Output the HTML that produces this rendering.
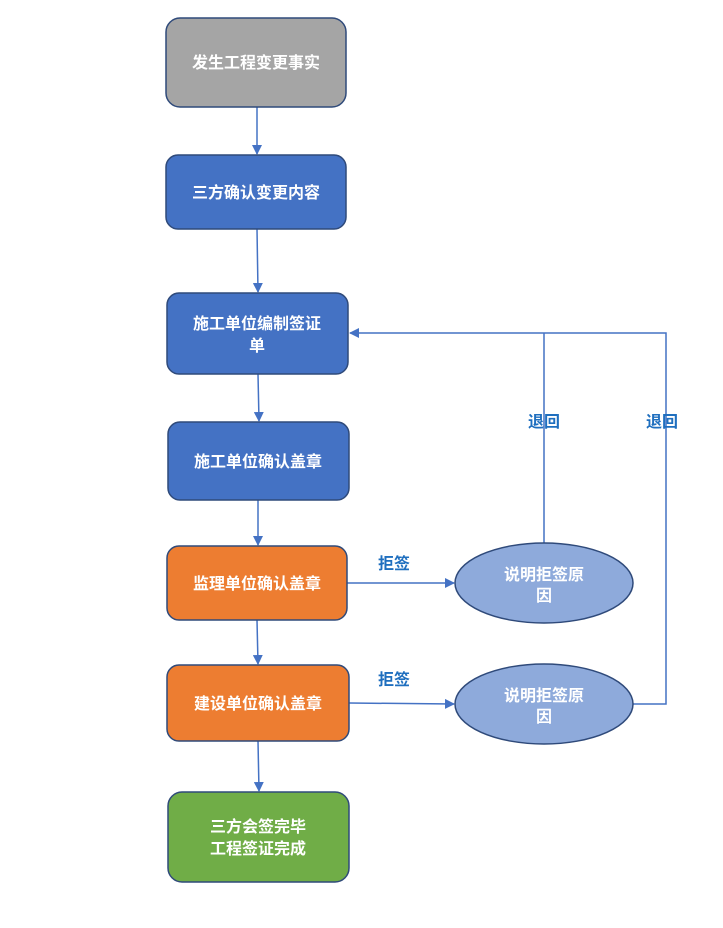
<!DOCTYPE html>
<html><head><meta charset="utf-8"><style>
body{margin:0;background:#fff;}
svg text{font-family:"Liberation Sans","Noto Sans CJK SC",sans-serif;font-weight:bold;}
</style></head><body>
<svg width="723" height="923" viewBox="0 0 723 923" xmlns="http://www.w3.org/2000/svg">
<defs><marker id="a" markerWidth="10" markerHeight="10" refX="9" refY="5" orient="auto" markerUnits="userSpaceOnUse"><path d="M0,0 L10,5 L0,10 z" fill="#4472c4"/></marker></defs>
<g stroke="#4472c4" stroke-width="1.5" fill="none">
<line x1="257" y1="107" x2="257" y2="154" marker-end="url(#a)"/>
<line x1="257" y1="229" x2="258" y2="292" marker-end="url(#a)"/>
<line x1="258" y1="374" x2="259" y2="421" marker-end="url(#a)"/>
<line x1="258" y1="500" x2="258" y2="545" marker-end="url(#a)"/>
<line x1="257" y1="620" x2="258" y2="664" marker-end="url(#a)"/>
<line x1="258" y1="741" x2="259" y2="791" marker-end="url(#a)"/>
<line x1="347" y1="583" x2="454" y2="583" marker-end="url(#a)"/>
<line x1="349" y1="703" x2="454" y2="704" marker-end="url(#a)"/>
<polyline points="544,543 544,333"/>
<polyline points="633,704 666,704 666,333 350,333" marker-end="url(#a)"/>
</g>
<g stroke="#2f4a7a" stroke-width="1.5">
<rect x="166" y="18" width="180" height="89" rx="14" fill="#a5a5a5"/>
<rect x="166" y="155" width="180" height="74" rx="12" fill="#4472c4"/>
<rect x="167" y="293" width="181" height="81" rx="12" fill="#4472c4"/>
<rect x="168" y="422" width="181" height="78" rx="12" fill="#4472c4"/>
<rect x="167" y="546" width="180" height="74" rx="12" fill="#ed7d31"/>
<rect x="167" y="665" width="182" height="76" rx="12" fill="#ed7d31"/>
<rect x="168" y="792" width="181" height="90" rx="14" fill="#70ad47"/>
<ellipse cx="544" cy="583" rx="89" ry="40" fill="#8eaadb"/>
<ellipse cx="544" cy="704" rx="89" ry="40" fill="#8eaadb"/>
</g>
<g fill="#fff" font-size="16" text-anchor="middle">
<text x="256" y="68">发生工程变更事实</text>
<text x="256" y="198">三方确认变更内容</text>
<text x="257" y="329">施工单位编制签证</text>
<text x="257" y="351">单</text>
<text x="258" y="467">施工单位确认盖章</text>
<text x="257" y="589">监理单位确认盖章</text>
<text x="258" y="709">建设单位确认盖章</text>
<text x="258" y="832">三方会签完毕</text>
<text x="258" y="854">工程签证完成</text>
<text x="544" y="580">说明拒签原</text>
<text x="544" y="601">因</text>
<text x="544" y="701">说明拒签原</text>
<text x="544" y="722">因</text>
</g>
<g fill="#1f6fbf" font-size="16" text-anchor="middle">
<text x="544" y="427">退回</text>
<text x="662" y="427">退回</text>
<text x="394" y="569">拒签</text>
<text x="394" y="685">拒签</text>
</g>
</svg>
</body></html>
